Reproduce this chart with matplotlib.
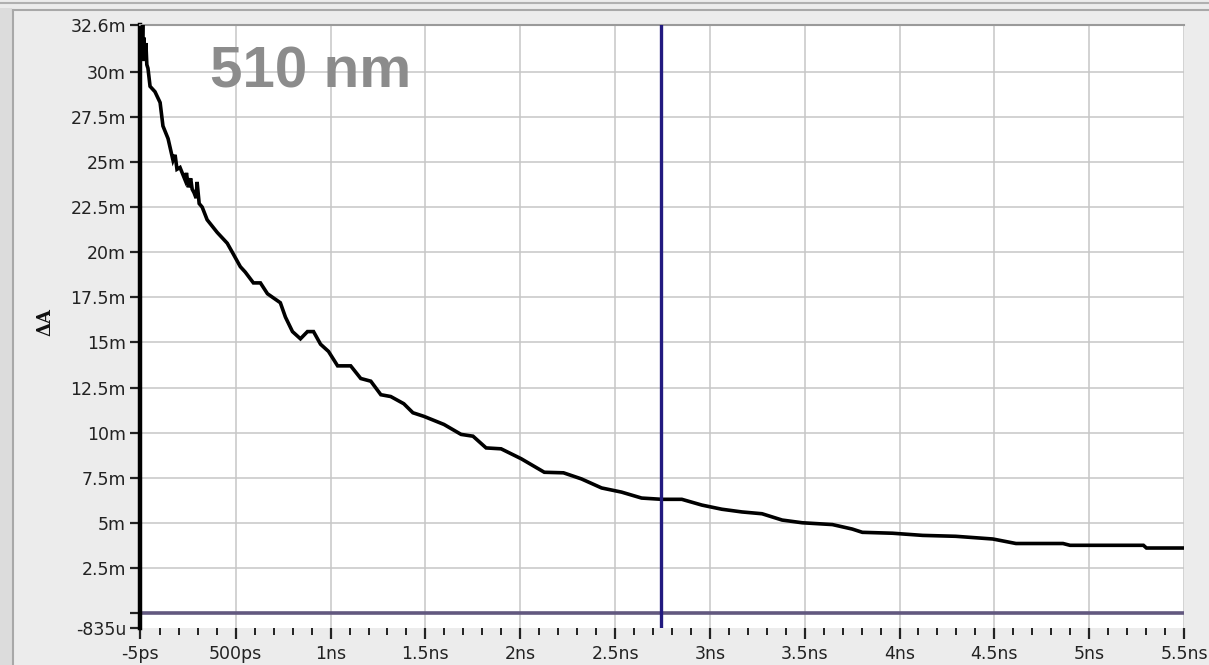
import matplotlib
matplotlib.use("Agg")
import matplotlib.pyplot as plt
from matplotlib.patches import Rectangle
from matplotlib.lines import Line2D
import numpy as np

# ---- data (time in ns, ΔA in mOD) ----
time_ns = [-0.005, 0.002, 0.005, 0.009, 0.013, 0.016, 0.020, 0.026, 0.031, 0.037,
           0.048, 0.074, 0.101, 0.116, 0.143, 0.169, 0.180, 0.190, 0.206, 0.233,
           0.240, 0.250, 0.262, 0.270, 0.280, 0.291,
           0.296, 0.307, 0.323, 0.349, 0.402, 0.455, 0.487, 0.524, 0.550, 0.593,
           0.630, 0.667, 0.735, 0.762, 0.799, 0.841, 0.878, 0.910, 0.947, 0.989,
           1.037, 1.106, 1.159, 1.212, 1.265, 1.317, 1.386, 1.434, 1.492, 1.598,
           1.688, 1.751, 1.820, 1.899, 2.005, 2.127, 2.228, 2.323, 2.429, 2.534,
           2.640, 2.746, 2.852, 2.958, 3.063, 3.169, 3.275, 3.381, 3.487, 3.646,
           3.751, 3.804, 3.963, 4.122, 4.296, 4.492, 4.614, 4.862, 4.899, 5.286,
           5.302, 5.513]
delta_A_m = [31.0, 31.8, 31.2, 32.6, 30.6, 31.9, 30.8, 31.6, 30.4, 30.2,
             29.2, 28.9, 28.3, 27.0, 26.3, 25.1, 25.4, 24.6, 24.7, 24.0,
             24.4, 23.6, 24.1, 23.5, 23.3, 23.0,
             23.9, 22.7, 22.5, 21.8, 21.1, 20.5, 19.9, 19.2, 18.9, 18.3,
             18.3, 17.7, 17.2, 16.4, 15.6, 15.2, 15.6, 15.6, 14.9, 14.5,
             13.7, 13.7, 13.0, 12.85, 12.1, 12.0, 11.6, 11.1, 10.9, 10.45,
             9.9, 9.8, 9.15, 9.1, 8.55, 7.8, 7.77, 7.43, 6.93, 6.7,
             6.37, 6.3, 6.3, 5.98, 5.75, 5.6, 5.5, 5.15, 5.0, 4.9,
             4.65, 4.47, 4.42, 4.3, 4.25, 4.1, 3.85, 3.85, 3.75, 3.75,
             3.6, 3.6]

y_ticks = [-0.835, 0, 2.5, 5, 7.5, 10, 12.5, 15, 17.5, 20, 22.5, 25, 27.5, 30, 32.6]
y_labels = ["-835u", "", "2.5m", "5m", "7.5m", "10m", "12.5m", "15m", "17.5m",
            "20m", "22.5m", "25m", "27.5m", "30m", "32.6m"]
x_ticks = [-0.005, 0.5, 1.0, 1.5, 2.0, 2.5, 3.0, 3.5, 4.0, 4.5, 5.0, 5.5]
x_labels = ["-5ps", "500ps", "1ns", "1.5ns", "2ns", "2.5ns", "3ns", "3.5ns",
            "4ns", "4.5ns", "5ns", "5.5ns"]
cursor_x = 2.74
wavelength_label = "510 nm"

W, H = 1209, 665
fig = plt.figure(figsize=(W / 100, H / 100), dpi=100)
fig.patch.set_facecolor("#ececec")

# window chrome
fig.add_artist(Rectangle((0, 0), 12 / W, 1 - 8 / H, transform=fig.transFigure,
                         facecolor="#dcdcdc", edgecolor="none"))
fig.add_artist(Line2D([13 / W, 13 / W], [0, 1 - 10 / H], transform=fig.transFigure,
                      color="#a8a8a8", lw=1.5))
fig.add_artist(Line2D([13 / W, 1], [1 - 10 / H, 1 - 10 / H], transform=fig.transFigure,
                      color="#a8a8a8", lw=1.5))
fig.add_artist(Line2D([0, 1], [1 - 3 / H, 1 - 3 / H], transform=fig.transFigure,
                      color="#b0b0b0", lw=1.5))

left, right, top, bottom = 140, 1184, 25, 628
ax = fig.add_axes([left / W, 1 - bottom / H, (right - left) / W, (bottom - top) / H])
ax.set_facecolor("white")

ax.set_xlim(-0.005, 5.5)
ax.set_ylim(-0.835, 32.6)

# grid
for gx in x_ticks[1:]:
    ax.axvline(gx, color="#c6c6c6", lw=1.1, zorder=1)
for gy in y_ticks[2:]:
    ax.axhline(gy, color="#c6c6c6", lw=1.1, zorder=1)

# zero line and cursor
ax.axhline(0, color="#62587f", lw=2.6, zorder=2)
ax.axvline(cursor_x, color="#221a80", lw=2.4, zorder=4)

# trace
ax.plot(time_ns, delta_A_m, color="black", lw=2.6, zorder=3, solid_joinstyle="miter")

ax.set_yticks(y_ticks)
ax.set_yticklabels(y_labels)
ax.set_xticks(x_ticks)
ax.set_xticklabels(x_labels)
ax.set_xticks(np.arange(0.1, 5.5, 0.1), minor=True)

ax.tick_params(axis="y", direction="out", length=7, width=1.6, pad=3,
               labelsize=12.5, colors="#222222")
ax.tick_params(axis="x", which="major", direction="out", length=8, width=1.6, pad=4,
               labelsize=12.5, colors="#222222")
ax.tick_params(axis="x", which="minor", direction="out", length=5, width=1.4,
               colors="#222222")

for s in ["right", "bottom"]:
    ax.spines[s].set_visible(False)
ax.spines["top"].set_color("#9a9a9a")
ax.spines["top"].set_linewidth(1.5)
ax.spines["left"].set_color("black")
ax.spines["left"].set_linewidth(3.2)

ax.text((210 - left) / (right - left), (bottom - 87) / (bottom - top), wavelength_label,
        transform=ax.transAxes, fontsize=42, fontweight="bold", color="#8c8c8c",
        family="Liberation Sans", ha="left", va="baseline", zorder=5)

fig.text(45 / W, 1 - 322 / H, "ΔA", rotation=90, fontsize=13, fontweight="bold",
         family="DejaVu Serif", color="#111111", ha="center", va="center")

fig.savefig("out.png", dpi=100, facecolor=fig.get_facecolor())
